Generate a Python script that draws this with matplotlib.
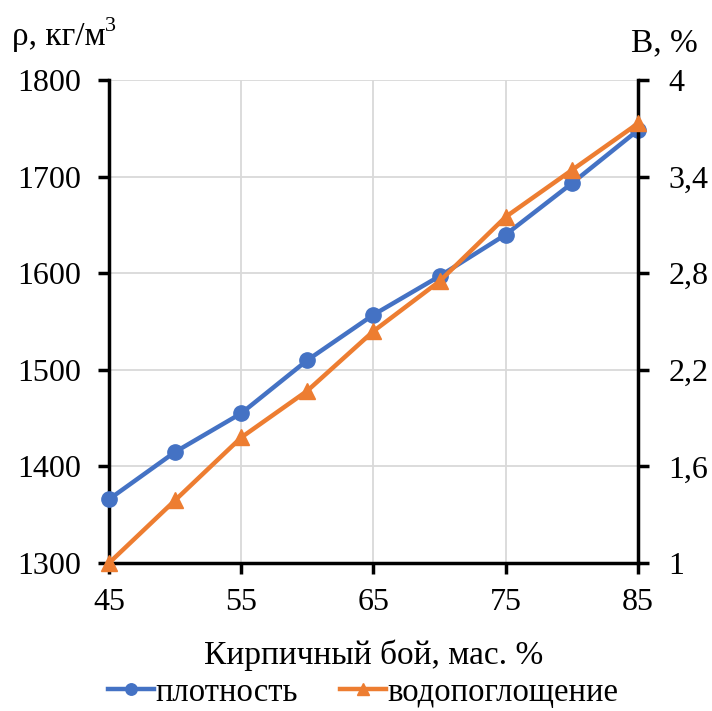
import matplotlib.pyplot as plt
from matplotlib.ticker import FuncFormatter

plt.rcParams['font.family'] = ['Liberation Serif', 'DejaVu Serif']

# кирпичный бой, мас. %
brick = [45, 50, 55, 60, 65, 70, 75, 80, 85]
# плотность, кг/м3
density = [1366, 1415, 1455, 1510, 1557, 1597, 1640, 1693, 1748]
# водопоглощение, %
absorption = [1.0, 1.39, 1.78, 2.07, 2.44, 2.75, 3.15, 3.44, 3.73]

x_ticks = [45, 55, 65, 75, 85]
left_ticks = [1300, 1400, 1500, 1600, 1700, 1800]
right_ticks = [1, 1.6, 2.2, 2.8, 3.4, 4]

blue = '#4472C4'
orange = '#ED7D31'

fig = plt.figure(figsize=(7.12, 7.11), dpi=100)
ax = fig.add_axes([0.153, 0.208, 0.743, 0.6795])
ax2 = ax.twinx()

l1, = ax.plot(brick, density, color=blue, lw=3.2, marker='o', ms=11,
              label='плотность', clip_on=False, zorder=3)
l2, = ax2.plot(brick, absorption, color=orange, lw=3.2, marker='^', ms=11,
               label='водопоглощение', clip_on=False, zorder=3)

ax.set_xlim(45, 85)
ax.set_ylim(1300, 1800)
ax2.set_ylim(1, 4)
ax.set_xticks(x_ticks)
ax.set_yticks(left_ticks)
ax2.set_yticks(right_ticks)
ax2.yaxis.set_major_formatter(FuncFormatter(lambda v, p: f'{v:g}'.replace('.', ',')))

ax.grid(True, color='#d9d9d9', lw=1.3)
ax.set_axisbelow(True)

for a in (ax, ax2):
    for s in a.spines.values():
        s.set_visible(False)
    a.tick_params(width=2.5, length=8, labelsize=23, color='black')
ax.spines['left'].set_visible(True)
ax.spines['bottom'].set_visible(True)
ax2.spines['right'].set_visible(True)
for s in (ax.spines['left'], ax.spines['bottom'], ax2.spines['right']):
    s.set_linewidth(2.5)
ax.tick_params(axis='x', pad=10)
ax.tick_params(axis='y', pad=12)
ax2.tick_params(axis='y', pad=14)

ax.set_xlabel('Кирпичный бой, мас. %', fontsize=24, labelpad=16)
fig.text(0.017, 0.948, 'ρ, кг/м', fontsize=24, ha='left', va='center')
fig.text(0.148, 0.963, '3', fontsize=16, ha='left', va='center')
fig.text(0.98, 0.94, 'В, %', fontsize=24, ha='right', va='center')

fig.legend(handles=[l1, l2], loc='center', bbox_to_anchor=(0.51, 0.026),
           ncol=2, frameon=False, fontsize=23.5, handlelength=1.4,
           handletextpad=0.05, columnspacing=1.3, markerscale=0.75)

fig.savefig('out.png', dpi=100)
